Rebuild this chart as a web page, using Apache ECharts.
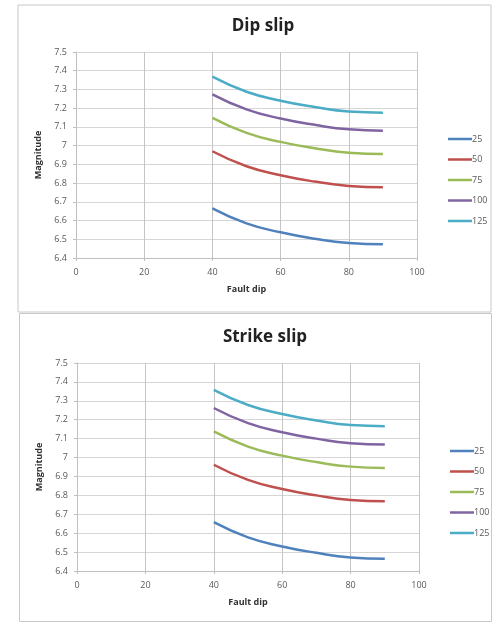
<!DOCTYPE html>
<html>
<head>
<meta charset="utf-8">
<script src="https://cdn.jsdelivr.net/npm/echarts@6/dist/echarts.min.js"></script>
<style>
  html, body { margin: 0; padding: 0; background: #fff; }
  #chart { width: 496px; height: 623px; }
</style>
</head>
<body>
<div id="chart"></div>
<script>
// Fault dip angles (degrees) at which magnitude was computed
const faultDip = [40, 50, 60, 70, 80, 90];

// Series names (legend entries)
const seriesNames = ['25', '50', '75', '100', '125'];

// Dip slip magnitudes, one array per series
const dip25  = [6.665, 6.585, 6.537, 6.503, 6.480, 6.473];
const dip50  = [6.970, 6.890, 6.842, 6.808, 6.785, 6.778];
const dip75  = [7.148, 7.068, 7.020, 6.986, 6.962, 6.955];
const dip100 = [7.274, 7.194, 7.145, 7.111, 7.087, 7.080];
const dip125 = [7.368, 7.288, 7.240, 7.206, 7.182, 7.176];

// Strike slip magnitudes, one array per series
const strike25  = [6.658, 6.578, 6.530, 6.496, 6.472, 6.465];
const strike50  = [6.962, 6.882, 6.834, 6.800, 6.776, 6.769];
const strike75  = [7.138, 7.058, 7.010, 6.976, 6.952, 6.945];
const strike100 = [7.262, 7.182, 7.134, 7.100, 7.076, 7.069];
const strike125 = [7.358, 7.278, 7.230, 7.196, 7.172, 7.166];

// Axis ticks
const xTicks = [0, 20, 40, 60, 80, 100];
const yTicks = [6.4, 6.5, 6.6, 6.7, 6.8, 6.9, 7.0, 7.1, 7.2, 7.3, 7.4, 7.5];

const titles = ['Dip slip', 'Strike slip'];
const colors = ['#4F81BD', '#C0504D', '#9BBB59', '#8064A2', '#4BACC6'];

const dipData = [dip25, dip50, dip75, dip100, dip125];
const strikeData = [strike25, strike50, strike75, strike100, strike125];

const FONT = '"Open Sans", "Liberation Sans", sans-serif';
const TEXT = '#595959';

const grids = [
  { left: 76, top: 52, width: 341, height: 206 },
  { left: 77, top: 363, width: 342, height: 208 }
];

function xAxisFor(i) {
  return {
    gridIndex: i, type: 'value',
    min: xTicks[0], max: xTicks[xTicks.length - 1], interval: xTicks[1] - xTicks[0],
    name: 'Fault dip', nameLocation: 'middle', nameGap: 27,
    nameTextStyle: { fontFamily: FONT, fontSize: 9, fontWeight: 'bold', color: '#333' },
    axisLine: { show: true, lineStyle: { color: '#bfbfbf' } },
    axisTick: { show: true, length: 3, lineStyle: { color: '#bfbfbf' } },
    axisLabel: { fontFamily: FONT, fontSize: 9, color: TEXT, margin: 10 },
    splitLine: { show: true, lineStyle: { color: '#c4c4c4', width: 1 } }
  };
}

function yAxisFor(i) {
  return {
    gridIndex: i, type: 'value',
    min: yTicks[0], max: yTicks[yTicks.length - 1], interval: 0.1,
    name: 'Magnitude', nameLocation: 'middle', nameGap: 33, nameRotate: 90,
    nameTextStyle: { fontFamily: FONT, fontSize: 9, fontWeight: 'bold', color: '#333' },
    axisLine: { show: true, lineStyle: { color: '#bfbfbf' } },
    axisTick: { show: true, length: 3, lineStyle: { color: '#bfbfbf' } },
    axisLabel: {
      fontFamily: FONT, fontSize: 9, color: TEXT, margin: 9,
      formatter: v => String(+(+v).toFixed(1))
    },
    splitLine: { show: true, lineStyle: { color: '#d6d6d6', width: 1 } }
  };
}

function seriesFor(i, data) {
  return seriesNames.map((name, k) => ({
    name, type: 'line', xAxisIndex: i, yAxisIndex: i,
    data: faultDip.map((x, j) => [x, data[k][j]]),
    smooth: 0.5, showSymbol: false, symbol: 'none',
    lineStyle: { width: 2.5, color: colors[k] },
    itemStyle: { color: colors[k] },
    emphasis: { disabled: true }
  }));
}

function legendFor(top, left) {
  return {
    data: seriesNames, orient: 'vertical', left, top,
    icon: 'rect', itemWidth: 24, itemHeight: 2.5, itemGap: 8.5,
    textStyle: { fontFamily: FONT, fontSize: 9, color: TEXT, lineHeight: 12, padding: [0, 0, 0, -5] },
    selectedMode: false
  };
}

const chart = echarts.init(document.getElementById('chart'), null, { renderer: 'canvas' });
chart.setOption({
  backgroundColor: '#fff',
  animation: false,
  color: colors,
  title: [
    { text: titles[0], left: 258, top: 13, textAlign: 'center',
      textStyle: { fontFamily: FONT, fontSize: 17, fontWeight: 'bold', color: '#222' } },
    { text: titles[1], left: 260, top: 324, textAlign: 'center',
      textStyle: { fontFamily: FONT, fontSize: 17, fontWeight: 'bold', color: '#222' } }
  ],
  legend: [legendFor(128, 443), legendFor(440, 445)],
  graphic: [
    { type: 'rect', shape: { x: 18, y: 5, width: 473, height: 307 },
      style: { fill: 'none', stroke: '#c8c8c8', lineWidth: 1 }, silent: true, z: -1 },
    { type: 'rect', shape: { x: 19.5, y: 313.5, width: 472, height: 308 },
      style: { fill: 'none', stroke: '#c8c8c8', lineWidth: 1 }, silent: true, z: -1 }
  ],
  grid: grids,
  xAxis: [xAxisFor(0), xAxisFor(1)],
  yAxis: [yAxisFor(0), yAxisFor(1)],
  series: [...seriesFor(0, dipData), ...seriesFor(1, strikeData)]
});
</script>
</body>
</html>
